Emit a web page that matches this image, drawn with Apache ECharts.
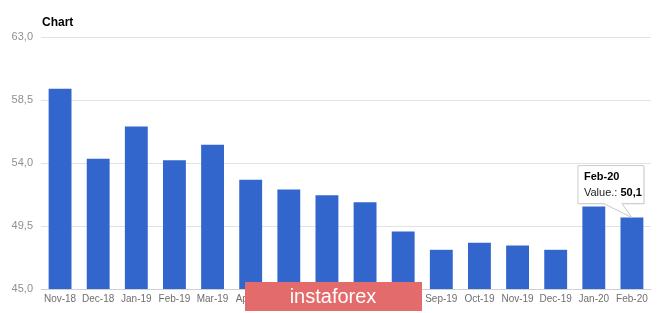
<!DOCTYPE html>
<html><head><meta charset="utf-8">
<script src="https://cdn.jsdelivr.net/npm/echarts@6/dist/echarts.min.js"></script>
<style>html,body{margin:0;padding:0;background:#fff}#c{width:665px;height:313px}</style>
</head><body><div id="c"></div>
<script>
var categories = ['Nov-18','Dec-18','Jan-19','Feb-19','Mar-19','Apr-19','May-19','Jun-19','Jul-19','Aug-19','Sep-19','Oct-19','Nov-19','Dec-19','Jan-20','Feb-20'];
var values = [59.3, 54.3, 56.6, 54.2, 55.3, 52.8, 52.1, 51.7, 51.2, 49.1, 47.8, 48.3, 48.1, 47.8, 50.9, 50.1];
var yTicks = [45.0, 49.5, 54.0, 58.5, 63.0];
var titleText = 'Chart';
var tipIndex = 15;
var watermark = 'instaforex';

var FF = 'Liberation Sans, Arial, sans-serif';
var fmt = function(v){ return v.toFixed(1).replace('.', ','); };
var chart = echarts.init(document.getElementById('c'), null, {renderer:'canvas'});
chart.setOption({
  animation: false,
  textStyle: {fontFamily: FF},
  title: {text: titleText, left: 37, top: 12, textStyle: {fontSize: 12, fontWeight: 'bold', color: '#000'}},
  grid: {left: 41, right: 14, top: 37, bottom: 24, containLabel: false},
  xAxis: {
    type: 'category', data: categories,
    axisLine: {show: true, lineStyle: {color: '#d0d0d0'}},
    axisTick: {show: false},
    axisLabel: {color: '#6e6e6e', fontSize: 10, margin: 5, interval: 0}
  },
  yAxis: {
    type: 'value', min: yTicks[0], max: yTicks[yTicks.length-1], interval: yTicks[1]-yTicks[0],
    axisLine: {show: false}, axisTick: {show: false},
    axisLabel: {color: '#909090', fontSize: 11, margin: 8, formatter: fmt},
    splitLine: {lineStyle: {color: '#e2e2e2'}}
  },
  series: [{
    type: 'bar', data: values, barWidth: '60%',
    itemStyle: {color: '#3366cc'}
  }]
});

var p = chart.convertToPixel({seriesIndex: 0}, [categories[tipIndex], values[tipIndex]]);
var bx = p[0] - 54, by = p[1] - 52, bw = 66, bh = 38;
chart.setOption({
  graphic: [
    {type: 'polygon', zlevel: 1, z: 100, shape: {points: [[bx+1, by+2], [bx+bw+1, by+2], [bx+bw+1, by+bh+1], [bx+45, by+bh+1], [p[0]+1, p[1]+1], [bx+27, by+bh+1], [bx+1, by+bh+1]]}, style: {fill: 'rgba(0,0,0,0.08)'}},
    {type: 'polygon', zlevel: 1, z: 101, shape: {points: [[bx, by], [bx+bw, by], [bx+bw, by+bh], [bx+44, by+bh], [p[0], p[1]], [bx+26, by+bh], [bx, by+bh]]}, style: {fill: '#fff', stroke: '#cccccc', lineWidth: 1}},
    {type: 'text', zlevel: 1, z: 102, x: bx+6, y: by+6, style: {text: categories[tipIndex], fontSize: 11, fontWeight: 'bold', fill: '#000', fontFamily: FF}},
    {type: 'text', zlevel: 1, z: 102, x: bx+6, y: by+22, style: {text: '{a|Value.: }{b|' + fmt(values[tipIndex]) + '}', rich: {a: {fontSize: 11, fill: '#222', fontFamily: FF}, b: {fontSize: 11, fontWeight: 'bold', fill: '#000', fontFamily: FF}}}},
    {type: 'rect', zlevel: 2, z: 200, shape: {x: 245, y: 282, width: 177, height: 29}, style: {fill: '#e36b6b'}},
    {type: 'text', zlevel: 2, z: 201, x: 333, y: 297, style: {text: watermark, fontSize: 20, fill: '#fff', align: 'center', verticalAlign: 'middle', fontFamily: FF}}
  ]
});
</script></body></html>
